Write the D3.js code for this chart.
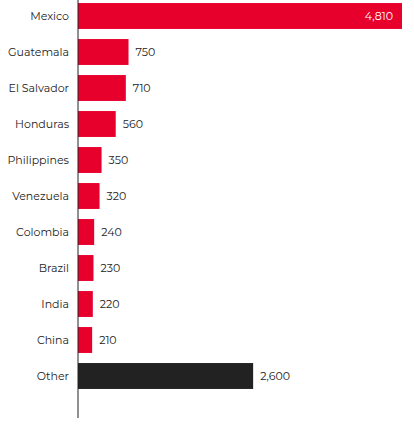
<!DOCTYPE html>
<html><head><meta charset="utf-8">
<script src="https://cdn.jsdelivr.net/npm/d3@7"></script>
<style>body{margin:0;background:#fff}text{font-family:Montserrat,"Open Sans",sans-serif;font-size:11px}</style>
</head><body><svg id="c" width="414" height="431"></svg>
<script>
const categories=["Mexico","Guatemala","El Salvador","Honduras","Philippines","Venezuela","Colombia","Brazil","India","China","Other"];
const values=[4810,750,710,560,350,320,240,230,220,210,2600];
const svg=d3.select("#c");
const x0=78;
const x=d3.scaleLinear().domain([0,4810]).range([x0,402]);
const y=d3.scaleBand().domain(categories).range([-2,394]).paddingInner(0.28).paddingOuter(0.14);
const fmt=d3.format(",");
svg.selectAll("rect").data(categories).join("rect")
 .attr("x",x0).attr("y",d=>y(d)).attr("height",y.bandwidth())
 .attr("width",(d,i)=>x(values[i])-x0)
 .attr("fill",d=>d==="Other"?"#222222":"#e8002d");
svg.selectAll(".cat").data(categories).join("text")
 .attr("x",69).attr("y",d=>y(d)+y.bandwidth()/2).attr("dy","0.35em")
 .attr("text-anchor","end").attr("fill","#222").text(d=>d);
svg.selectAll(".val").data(categories).join("text")
 .attr("y",d=>y(d)+y.bandwidth()/2).attr("dy","0.35em")
 .attr("x",(d,i)=>i===0?x(values[i])-9:x(values[i])+7)
 .attr("text-anchor",(d,i)=>i===0?"end":"start")
 .attr("fill",(d,i)=>i===0?"#fff":"#222")
 .text((d,i)=>fmt(values[i]));
svg.append("line").attr("x1",x0).attr("x2",x0).attr("y1",0).attr("y2",418).attr("stroke","#222").attr("stroke-width",1);
</script></body></html>
